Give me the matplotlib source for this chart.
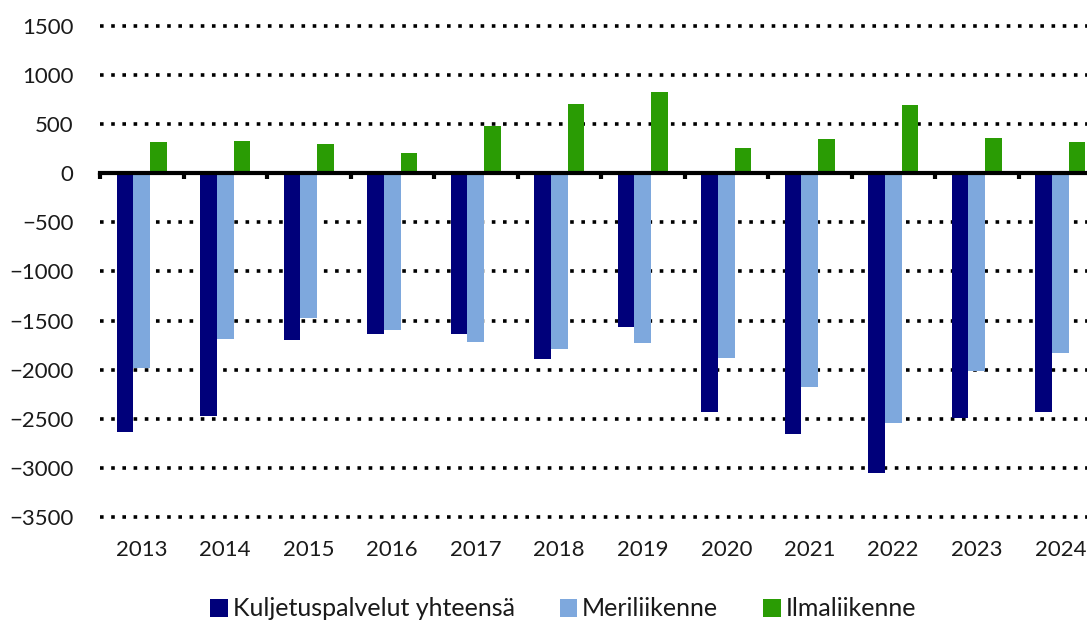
"""Kuljetuspalvelut: yhteensä, meriliikenne ja ilmaliikenne 2013-2024."""

import numpy as np
import matplotlib
matplotlib.use("Agg")
import matplotlib.pyplot as plt
from matplotlib.patches import Patch

years = ["2013", "2014", "2015", "2016", "2017", "2018",
         "2019", "2020", "2021", "2022", "2023", "2024"]
kuljetus_yht = [-2630, -2475, -1695, -1635, -1636, -1893,
                -1562, -2434, -2657, -3053, -2495, -2434]
meriliikenne = [-1985, -1690, -1470, -1592, -1714, -1785,
                -1727, -1876, -2177, -2538, -2011, -1833]
ilmaliikenne = [314, 328, 300, 208, 480, 707,
                828, 254, 345, 693, 362, 318]

series = [
    ("Kuljetuspalvelut yhteensä", kuljetus_yht, "#00007A"),
    ("Meriliikenne", meriliikenne, "#7EA8DD"),
    ("Ilmaliikenne", ilmaliikenne, "#2A9C04"),
]

plt.rcParams["font.family"] = ["Lato", "DejaVu Sans"]
text_color = "#1a1a1a"

W, H = 1087, 621
fig = plt.figure(figsize=(W / 100, H / 100), dpi=100)
ax = fig.add_axes([100 / W, (H - 517) / H, 1002 / W, (517 - 26) / H])

x = np.arange(len(years))
width = 0.2
for i, (name, vals, color) in enumerate(series):
    ax.bar(x + (i - 1) * width, vals, width, color=color, label=name, zorder=2)

ax.set_xlim(-0.5, len(years) - 0.5)
ax.set_ylim(-3500, 1500)
ax.set_yticks(np.arange(-3500, 1501, 500))

# dotted black gridlines behind the bars
ax.set_axisbelow(True)
ax.yaxis.grid(True, color="black", linewidth=2.6,
              linestyle=(0, (1, 2.1)), dash_capstyle="butt")
for gl in ax.get_ygridlines():
    gl.set_clip_on(False)

for side in ("left", "right", "top"):
    ax.spines[side].set_visible(False)
ax.spines["bottom"].set_position(("data", 0))
ax.spines["bottom"].set_linewidth(3)
ax.spines["bottom"].set_zorder(3)

ax.set_xticks(x)
ax.set_xticklabels(years)
ax.set_xticks(np.arange(-0.5, len(years), 1), minor=True)
ax.tick_params(axis="x", which="major", length=0, pad=264,
               labelsize=16, labelcolor=text_color)
ax.tick_params(axis="x", which="minor", direction="out", length=4,
               width=3, color="black")
ax.tick_params(axis="y", length=0, pad=19, labelsize=16, labelcolor=text_color)

handles = [Patch(facecolor=c) for _, _, c in series]
labels = [n for n, _, _ in series]
fig.legend(handles, labels, loc="center", bbox_to_anchor=(0.518, 12 / H),
           ncol=3, frameon=False, fontsize=18, handlelength=0.7,
           handleheight=0.7, handletextpad=0.2, columnspacing=1.8,
           labelcolor=text_color)

fig.savefig("out.png", dpi=100)
plt.close(fig)
